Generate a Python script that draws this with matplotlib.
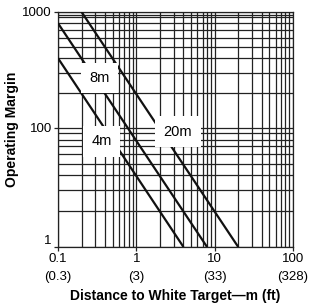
import numpy as np
import matplotlib
matplotlib.use('Agg')
import matplotlib.pyplot as plt
from matplotlib.ticker import FixedLocator, NullFormatter

# curves: (label, start distance, start margin, end distance, end margin)
curve_names = ['4m', '8m', '20m']
dist_start = [0.1, 0.1, 0.2]
margin_start = [400, 800, 1000]
dist_end = [4, 8, 20]
margin_end = [1, 1, 1]

# label positions
label_x = [0.36, 0.34, 3.4]
label_y = [60, 270, 87]

x_ticks = [0.1, 1, 10, 100]
x_ticklabels = ['0.1\n(0.3)', '1\n(3)', '10\n(33)', '100\n(328)']
y_ticks = [1, 100, 1000]
y_ticklabels = ['1', '100', '1000']
# horizontal grid lines (the lower part of the chart is compressed)
y_grid = [4, 9, 16, 25, 36, 49, 64, 81, 200, 300, 400, 500, 600, 700, 800, 900, 950]

LOWER = 119 / 116 / 2


def fwd(v):
    v = np.clip(np.asarray(v, dtype=float), 1e-6, None)
    lv = np.log10(v)
    return np.where(lv >= 2, lv, 2 - (2 - lv) * LOWER)


def inv(t):
    t = np.asarray(t, dtype=float)
    return np.where(t >= 2, 10 ** t, 10 ** (2 - (2 - t) / LOWER))


plt.rcParams['font.family'] = ['Liberation Sans', 'DejaVu Sans']

fig = plt.figure(figsize=(3.10, 3.06), dpi=100)
ax = fig.add_axes([58 / 310, 1 - 247 / 306, 235 / 310, 235 / 306])

ax.set_xscale('log')
ax.set_yscale('function', functions=(fwd, inv))
ax.set_xlim(0.1, 100)
ax.set_ylim(1, 1000)

ax.xaxis.set_major_locator(FixedLocator(x_ticks))
ax.set_xticklabels(x_ticklabels, linespacing=1.65)
ax.xaxis.set_minor_formatter(NullFormatter())
ax.yaxis.set_major_locator(FixedLocator(y_ticks))
ax.yaxis.set_minor_locator(FixedLocator(y_grid))
ax.set_yticklabels(y_ticklabels)
ax.yaxis.set_minor_formatter(NullFormatter())
ax.get_yticklabels()[0].set_verticalalignment('bottom')

ax.grid(True, which='both', color='#222222', linewidth=0.9)
ax.tick_params(which='major', length=3, width=0.9, labelsize=9.5, pad=1.5, color='#222222')
ax.tick_params(which='minor', length=0)
for s in ax.spines.values():
    s.set_color('#222222')
    s.set_linewidth(0.9)

for i in range(len(curve_names)):
    ax.plot([dist_start[i], dist_end[i]], [margin_start[i], margin_end[i]],
            color='#111111', linewidth=1.6, solid_capstyle='butt', zorder=3)
    ax.text(label_x[i], label_y[i], curve_names[i], ha='center', va='center',
            fontsize=10.5, zorder=4,
            bbox=dict(facecolor='white', edgecolor='none', pad=6))

ax.set_xlabel('Distance to White Target\u2014m (ft)', fontsize=10, fontweight='bold', labelpad=4)
ax.set_ylabel('Operating Margin', fontsize=10, fontweight='bold', labelpad=2)

fig.savefig('out.png', dpi=100)
